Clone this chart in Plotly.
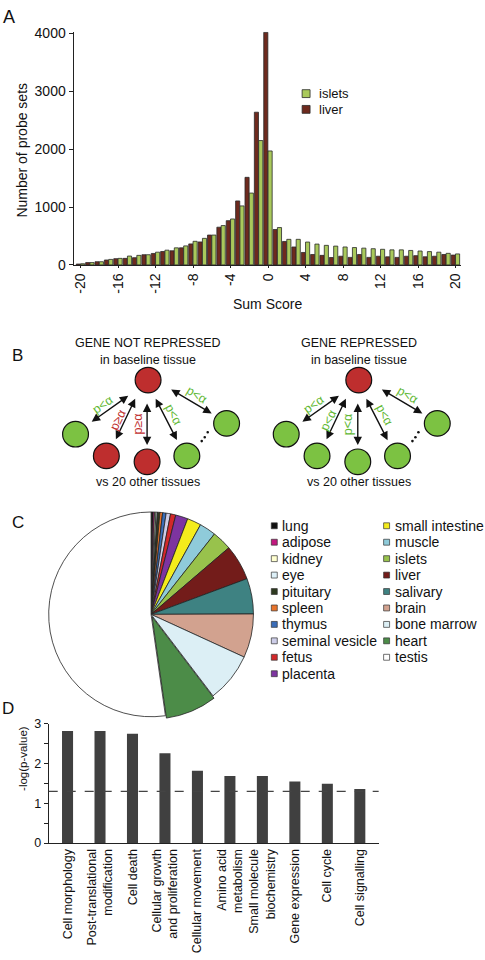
import plotly.graph_objects as go

W, H = 485, 960
FONT = "Liberation Sans, Arial, Helvetica, sans-serif"


def px(x):
    return x / W


def py(y):
    return 1 - y / H


# ---------------- Panel A data ----------------
sum_scores = list(range(-20, 21))
liver_counts = [15, 40, 55, 85, 108, 113, 125, 176, 198, 232,
                244, 295, 363, 397, 516, 652, 765, 1106, 1514, 2640,
                4020,
                612, 405, 310, 215, 180, 165, 128, 150, 130,
                180, 130, 150, 140, 130, 150, 160, 140, 150, 180, 170]
islet_counts = [20, 40, 55, 95, 113, 153, 165, 176, 220, 255,
                295, 329, 408, 459, 516, 680, 794, 1020, 1242, 2150,
                1970,
                646, 442, 442, 395, 360, 338, 325, 310, 300,
                290, 280, 270, 260, 260, 250, 240, 230, 220, 200, 190]
a_x_ticks = list(range(-20, 21, 4))
a_x_ticktext = [str(v) for v in a_x_ticks]
a_y_ticks = [0, 1000, 2000, 3000, 4000]
a_series = ["islets", "liver"]

# ---------------- Panel C data ----------------
tissues = ["lung", "adipose", "kidney", "eye", "pituitary", "spleen", "thymus",
           "seminal vesicle", "fetus", "placenta", "small intestine", "muscle",
           "islets", "liver", "salivary", "brain", "bone marrow", "heart", "testis"]
tissue_share = [0.33, 0.22, 0.22, 0.22, 0.39, 0.42, 0.56, 0.69, 0.83, 1.94,
                2.2, 2.6, 3.1, 5.6, 5.6, 6.9, 7.8, 8.1, 52.2]

# ---------------- Panel D data ----------------
processes = ["Cell morphology", "Post-translational<br>modification", "Cell death",
             "Cellular growth<br>and proliferation", "Cellular movement",
             "Amino acid<br>metabolism", "Small molecule<br>biochemistry",
             "Gene expression", "Cell cycle", "Cell signalling"]
neglog_p = [2.82, 2.82, 2.75, 2.26, 1.82, 1.69, 1.69, 1.55, 1.49, 1.36]
threshold = 1.3
d_y_ticks = [0, 1, 2, 3]

# ---------------- styles ----------------
LIVER_C = "#6E2A1E"
ISLET_C = "#A9C95B"
EDGE = "#2a2a2a"
tissue_colors = ["#111111", "#C2187F", "#FFFFD0", "#DDF0F8", "#2E3A20", "#E8742C",
                 "#3A6DB8", "#CDCDE8", "#D2282A", "#7D34A0", "#F4EC1C", "#8FCBDA",
                 "#98C24C", "#731C1A", "#3E8282", "#D2A28F", "#DCEFF5", "#4C8C48",
                 "#FFFFFF"]
RED = "#BE2E2E"
GREEN = "#7CC242"
GREEN_T = "#62B834"
RED_T = "#C0302F"

fig = go.Figure()

# Panel A bars
fig.add_trace(go.Bar(x=sum_scores, y=liver_counts, name="liver",
                     offset=-0.46, width=0.44,
                     marker=dict(color=LIVER_C, line=dict(color=EDGE, width=0.8)),
                     xaxis="x", yaxis="y", showlegend=False))
fig.add_trace(go.Bar(x=sum_scores, y=islet_counts, name="islets",
                     offset=0.0, width=0.44,
                     marker=dict(color=ISLET_C, line=dict(color=EDGE, width=0.8)),
                     xaxis="x", yaxis="y", showlegend=False))

# Panel C pie
pulls = [0.025 if t == "heart" else 0 for t in tissues]
cx, cy, r = 151, 617, 104
half = r * 1.025
fig.add_trace(go.Pie(labels=tissues, values=tissue_share, sort=False,
                     direction="clockwise", rotation=0, textinfo="none",
                     marker=dict(colors=tissue_colors, line=dict(color="#222", width=0.8)),
                     pull=pulls, showlegend=False, hoverinfo="label+percent",
                     domain=dict(x=[px(cx - half), px(cx + half)],
                                 y=[py(cy + half), py(cy - half)])))

# Panel D bars
fig.add_trace(go.Bar(x=processes, y=neglog_p, width=0.34,
                     marker=dict(color="#404040", line=dict(width=0)),
                     xaxis="x2", yaxis="y2", showlegend=False))

shapes = []
annotations = []


def text(x, y, s, size=12.5, color="#111", xanchor="center", angle=0):
    annotations.append(dict(x=px(x), y=py(y), xref="paper", yref="paper", text=s,
                            showarrow=False, xanchor=xanchor, yanchor="middle",
                            textangle=angle, font=dict(size=size, color=color, family=FONT)))


# Panel letters
text(8, 10, "A", size=18)
text(17, 354, "B", size=17)
text(17, 524, "C", size=17)
text(7, 713, "D", size=17)

# Panel A titles + legend
text(21, 145, "Number of probe sets", size=14, angle=-90)
text(268, 302, "Sum Score", size=14)
a_colors = {"islets": ISLET_C, "liver": LIVER_C}
for i, nm in enumerate(a_series):
    yy = 88 + 16 * i
    shapes.append(dict(type="rect", xref="paper", yref="paper",
                       x0=px(303), x1=px(311), y0=py(yy + 4), y1=py(yy - 4),
                       fillcolor=a_colors[nm], line=dict(color=EDGE, width=0.8)))
    text(318, yy, nm, size=13, xanchor="left")

# Panel B schematic
def diagram(off, top_title, lower_colors, label_specs):
    text(148 + off, 341, top_title, size=12.5)
    text(148 + off, 359, "in baseline tissue", size=12.5)
    text(148 + off, 483, "vs 20 other tissues", size=12.5)
    circles = [(148, 379, RED)] + [(c[0], c[1], col) for c, col in
                                   zip([(75, 434), (106, 456), (147, 462), (187, 456), (227, 423)],
                                       lower_colors)]
    for (x, y, col) in circles:
        shapes.append(dict(type="circle", xref="paper", yref="paper",
                           x0=px(x + off - 13), x1=px(x + off + 13),
                           y0=py(y + 13), y1=py(y - 13),
                           fillcolor=col, line=dict(color="#111", width=1.2)))
    arrows = [((90, 422), (128, 395)), ((115, 440), (135, 398)), ((147, 402), (147, 445)),
              ((155, 397), (177, 440)), ((170, 388), (212, 413))]
    for (a, b) in arrows:
        annotations.append(dict(x=px(b[0] + off), y=py(b[1]), xref="paper", yref="paper",
                                ax=a[0] - b[0], ay=a[1] - b[1], text="", showarrow=True,
                                arrowside="end+start", arrowhead=2, startarrowhead=2,
                                arrowsize=1.2, startarrowsize=1.2, arrowwidth=1.4,
                                arrowcolor="#111"))
    for (x, y, s, col, ang) in label_specs:
        text(x + off, y, s, size=12.5, color=col, angle=ang)
    for (x, y) in [(202, 441), (205, 437), (208, 432)]:
        shapes.append(dict(type="circle", xref="paper", yref="paper",
                           x0=px(x + off - 1.3), x1=px(x + off + 1.3),
                           y0=py(y + 1.3), y1=py(y - 1.3),
                           fillcolor="#111", line=dict(width=0)))


diagram(0, "GENE NOT REPRESSED", [GREEN, RED, RED, GREEN, GREEN],
        [(102, 404, "p&lt;α", GREEN_T, -35), (118, 420, "p≥α", RED_T, -64),
         (138, 424, "p≥α", RED_T, -90), (174, 414, "p&lt;α", GREEN_T, 62),
         (197, 394, "p&lt;α", GREEN_T, 31)])
diagram(212, "GENE REPRESSED", [GREEN, GREEN, GREEN, GREEN, GREEN],
        [(102, 404, "p&lt;α", GREEN_T, -35), (118, 420, "p&lt;α", GREEN_T, -64),
         (138, 424, "p&lt;α", GREEN_T, -90), (174, 414, "p&lt;α", GREEN_T, 62),
         (197, 394, "p&lt;α", GREEN_T, 31)])

# Panel C legend (two columns)
for i, (t, col) in enumerate(zip(tissues, tissue_colors)):
    colx = 0 if i < 10 else 1
    row = i if i < 10 else i - 10
    sx = 275 if colx == 0 else 388
    yy = 527 + 16.7 * row
    shapes.append(dict(type="rect", xref="paper", yref="paper",
                       x0=px(sx - 3), x1=px(sx + 3), y0=py(yy + 3), y1=py(yy - 3),
                       fillcolor=col, line=dict(color="#333", width=0.7)))
    text(sx + 6, yy, t, size=14, xanchor="left")

# Panel D titles + threshold
text(22, 763, "-log(p-value)", size=11.5, angle=-90)
shapes.append(dict(type="line", xref="x2 domain", yref="y2", x0=0, x1=1,
                   y0=threshold, y1=threshold,
                   line=dict(color="#444", width=1.2, dash="dash")))

axis_common = dict(showgrid=False, zeroline=False, showline=True, linecolor="#222",
                   linewidth=1, fixedrange=True)

fig.update_layout(
    width=W, height=H, margin=dict(l=0, r=0, t=0, b=0),
    paper_bgcolor="white", plot_bgcolor="white",
    font=dict(family=FONT, color="#111"),
    barmode="overlay", showlegend=False,
    xaxis=dict(domain=[px(73), px(463)], range=[-20.75, 20.6], tickvals=a_x_ticks,
               ticktext=a_x_ticktext,
               tickangle=-90, ticks="outside", ticklen=2, tickcolor="#222",
               tickfont=dict(size=14), **axis_common),
    yaxis=dict(domain=[py(262), py(25.2)], range=[0, 4030], tickvals=a_y_ticks,
               ticks="outside", ticklen=4, tickcolor="#222",
               tickfont=dict(size=14), **axis_common),
    xaxis2=dict(domain=[px(48), px(380)], range=[-0.58, 9.58], tickangle=-90,
                ticks="", tickfont=dict(size=12.5), anchor="y2", **axis_common),
    yaxis2=dict(domain=[py(849.3), py(728.3)], range=[0, 3], tickvals=d_y_ticks,
                ticks="outside", ticklen=4, tickcolor="#222", anchor="x2",
                minor=dict(tickmode="linear", tick0=0, dtick=0.5, ticks="outside",
                           ticklen=4, tickcolor="#222"),
                tickfont=dict(size=12.5), **axis_common),
    shapes=shapes, annotations=annotations,
)

fig.write_html("out.html", config={"displayModeBar": False},
               post_script="document.body.style.margin='0';document.body.style.overflow='hidden';")
